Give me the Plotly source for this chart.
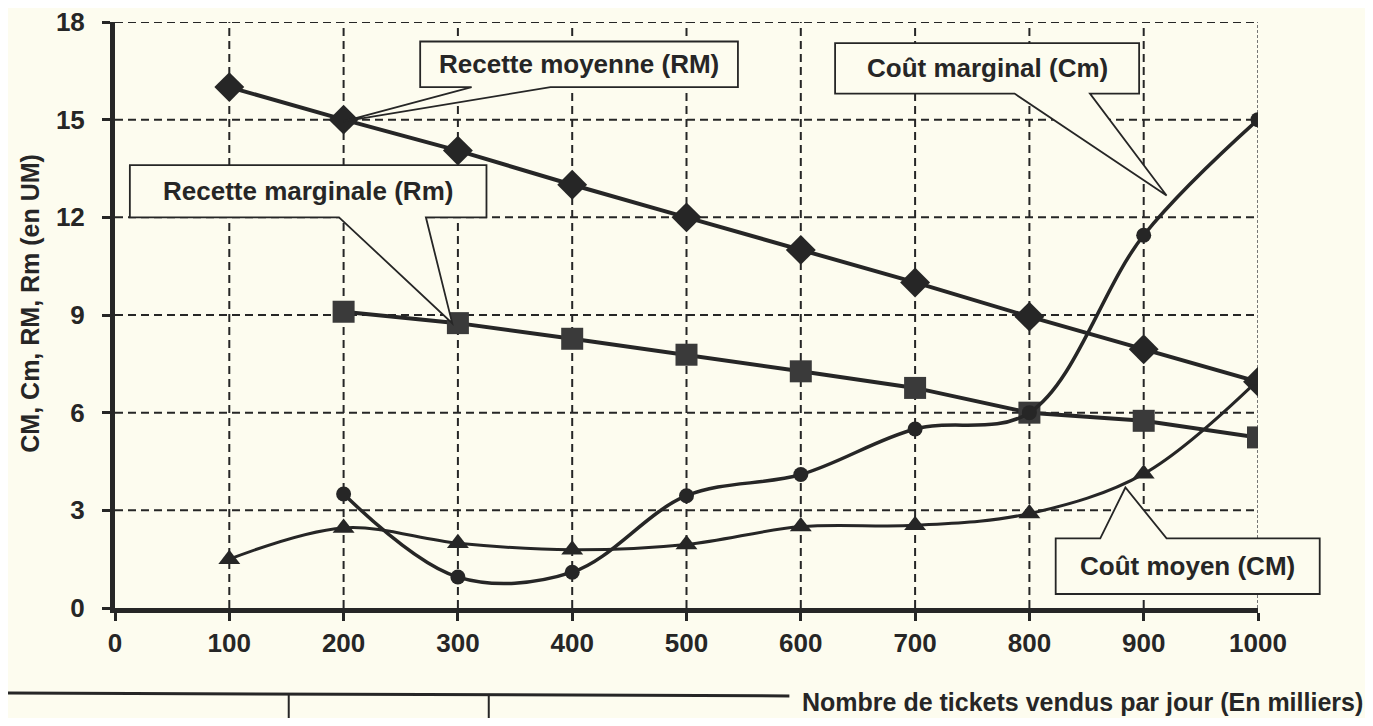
import plotly.graph_objects as go

# Quantités (en milliers de tickets)
quantites = [100, 200, 300, 400, 500, 600, 700, 800, 900, 1000]
quantites_m = [200, 300, 400, 500, 600, 700, 800, 900, 1000]

# Recette moyenne (RM)
recette_moyenne = [16.0, 15.0, 14.05, 13.0, 12.0, 11.0, 10.0, 8.95, 7.95, 6.95]
# Recette marginale (Rm)
recette_marginale = [9.1, 8.75, 8.27, 7.78, 7.27, 6.76, 6.0, 5.75, 5.24]
# Coût marginal (Cm)
cout_marginal = [3.5, 0.95, 1.1, 3.45, 4.1, 5.5, 6.0, 11.45, 15.0]
# Coût moyen (CM)
cout_moyen = [1.5, 2.46, 1.99, 1.79, 1.95, 2.5, 2.54, 2.9, 4.12, 7.0]

x_ticks = [0, 100, 200, 300, 400, 500, 600, 700, 800, 900, 1000]
y_ticks = [0, 3, 6, 9, 12, 15, 18]

X_MAX = 1000
Y_MAX = 18
INK = '#262626'
BG = '#fdfcef'
FONT = 'Liberation Sans, Arial, sans-serif'

fig = go.Figure()

fig.add_trace(go.Scatter(
    x=quantites, y=recette_moyenne, mode='lines+markers', name='RM',
    line=dict(color=INK, width=4),
    marker=dict(symbol='diamond', size=23, color=INK)
))
fig.add_trace(go.Scatter(
    x=quantites_m, y=recette_marginale, mode='lines+markers', name='Rm',
    line=dict(color=INK, width=4),
    marker=dict(symbol='square', size=22, color='#3a3a3a')
))
fig.add_trace(go.Scatter(
    x=quantites_m, y=cout_marginal, mode='lines+markers', name='Cm',
    line=dict(color=INK, width=3.5, shape='spline', smoothing=1.0),
    marker=dict(symbol='circle', size=15, color=INK)
))
fig.add_trace(go.Scatter(
    x=quantites, y=cout_moyen, mode='lines+markers', name='CM',
    line=dict(color=INK, width=3, shape='spline', smoothing=1.0),
    marker=dict(symbol='triangle-up', size=19, color=INK)
))

shapes = []
# quadrillage en tirets
for v in x_ticks[1:-1]:
    shapes.append(dict(type='line', xref='x', yref='paper', x0=v, x1=v, y0=0, y1=1,
                       line=dict(color=INK, width=2, dash='8px,5px'), layer='below'))
shapes.append(dict(type='line', xref='x', yref='paper', x0=X_MAX, x1=X_MAX, y0=0, y1=1,
                   line=dict(color='#777777', width=2, dash='3px,2px'), layer='below'))
for v in y_ticks[1:]:
    shapes.append(dict(type='line', xref='paper', yref='y', x0=0, x1=1, y0=v, y1=v,
                       line=dict(color=INK, width=2, dash='8px,5px'), layer='below'))


def px(x):
    return x / X_MAX


def py(y):
    return y / Y_MAX


def bulle(x0, x1, y0, y1, b1, b2, tip, haut=False):
    """Bulle de légende avec pointeur (coordonnées données -> papier)."""
    tx, ty = tip
    if not haut:
        pts = [(x0, y1), (x1, y1), (x1, y0), (b2, y0), (tx, ty), (b1, y0), (x0, y0)]
    else:
        pts = [(x0, y0), (x0, y1), (b1, y1), (tx, ty), (b2, y1), (x1, y1), (x1, y0)]
    path = 'M ' + ' L '.join(f'{px(a):.4f},{py(b):.4f}' for a, b in pts) + ' Z'
    return dict(type='path', xref='paper', yref='paper', path=path,
                fillcolor=BG, line=dict(color=INK, width=1.8), layer='above')


callouts = [
    ('Recette moyenne (RM)', (267, 545, 16.0, 17.4, 312, 381, (200, 14.95), False)),
    ('Recette marginale (Rm)', (13, 325, 12.0, 13.6, 196, 272, (295, 8.75), False)),
    ('Coût marginal (Cm)', (630, 896, 15.8, 17.35, 787, 853, (920, 12.67), False)),
    ('Coût moyen (CM)', (823, 1054, 0.43, 2.14, 862, 920, (884, 3.7), True)),
]

annotations = []
for texte, (x0, x1, y0, y1, b1, b2, tip, haut) in callouts:
    shapes.append(bulle(x0, x1, y0, y1, b1, b2, tip, haut))
    annotations.append(dict(
        xref='paper', yref='paper', x=px((x0 + x1) / 2), y=py((y0 + y1) / 2),
        text=texte, showarrow=False, xanchor='center', yanchor='middle',
        font=dict(family=FONT, size=26, color=INK, weight='bold')
    ))

# trait du tableau en bas de page (scan)
shapes.append(dict(type='line', xref='paper', yref='paper', x0=-0.1, x1=0.59,
                   y0=-0.145, y1=-0.15, line=dict(color=INK, width=3)))
for xv in [0.152, 0.327]:
    shapes.append(dict(type='line', xref='paper', yref='paper', x0=xv, x1=xv,
                       y0=-0.148, y1=-0.21, line=dict(color=INK, width=2)))

annotations.append(dict(
    xref='paper', yref='paper', x=-0.074, y=0.52, text='CM, Cm, RM, Rm (en UM)',
    textangle=-90, showarrow=False, xanchor='center', yanchor='middle',
    font=dict(family=FONT, size=25, color=INK, weight='bold')
))
annotations.append(dict(
    xref='paper', yref='paper', x=1.094, y=-0.161,
    text='Nombre de tickets vendus par jour (En milliers)',
    showarrow=False, xanchor='right', yanchor='middle',
    font=dict(family=FONT, size=25, color=INK, weight='bold')
))

# la page HTML ajoute une marge de 8 px : on la compense
fig.update_layout(
    width=1357, height=710,
    margin=dict(l=107, r=107, t=14, b=110),
    paper_bgcolor=BG, plot_bgcolor=BG,
    showlegend=False,
    shapes=shapes,
    annotations=annotations,
)

fig.update_xaxes(
    range=[0, X_MAX], tickvals=x_ticks, showgrid=False, zeroline=False,
    showline=True, linecolor=INK, linewidth=5, automargin=False,
    ticks='outside', ticklen=8, tickwidth=3, tickcolor=INK,
    ticklabelstandoff=0, ticklabeloverflow='allow',
    tickfont=dict(family=FONT, size=26, color=INK, weight='bold')
)
fig.update_yaxes(
    range=[0, Y_MAX], tickvals=y_ticks, showgrid=False, zeroline=False,
    showline=True, linecolor=INK, linewidth=5, automargin=False,
    ticks='outside', ticklen=8, tickwidth=3, tickcolor=INK,
    ticklabelstandoff=12, ticklabeloverflow='allow',
    tickfont=dict(family=FONT, size=26, color=INK, weight='bold')
)

fig.write_html("out.html")
